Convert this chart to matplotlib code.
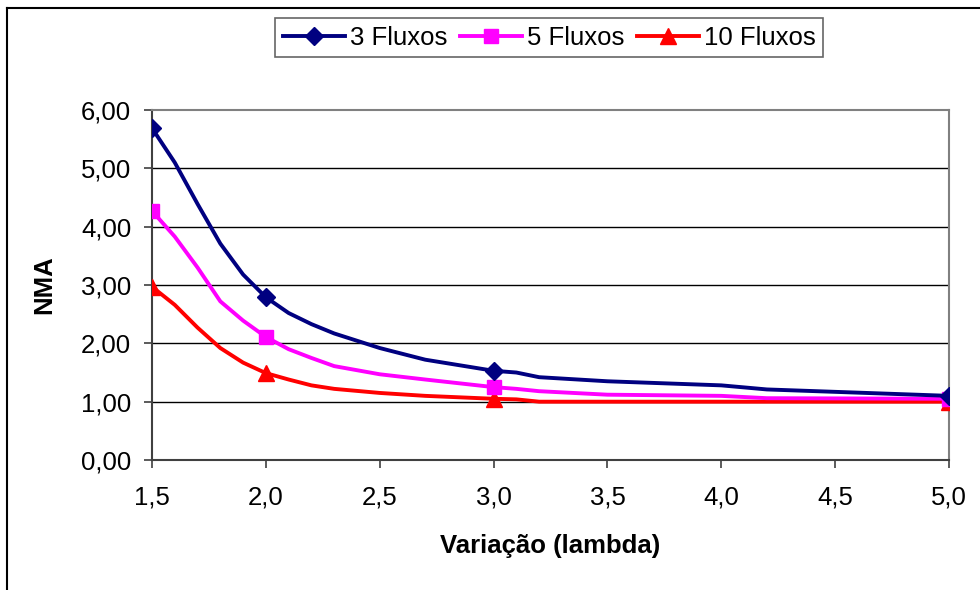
import numpy as np
import matplotlib.pyplot as plt
from matplotlib.lines import Line2D

plt.rcParams['font.family'] = ['Liberation Sans', 'DejaVu Sans']

# lambda values where NMA was measured
lambdas = [1.5, 1.6, 1.7, 1.8, 1.9, 2.0, 2.1, 2.2, 2.3, 2.5, 2.7, 3.0, 3.1, 3.2, 3.5, 4.0, 4.2, 5.0]

nma_3 = [5.69, 5.10, 4.39, 3.71, 3.18, 2.79, 2.52, 2.33, 2.17, 1.92, 1.72, 1.53, 1.50, 1.42, 1.35, 1.28, 1.21, 1.10]
nma_5 = [4.27, 3.83, 3.30, 2.72, 2.39, 2.11, 1.90, 1.75, 1.61, 1.47, 1.38, 1.25, 1.22, 1.18, 1.12, 1.10, 1.06, 1.05]
nma_10 = [2.97, 2.66, 2.27, 1.92, 1.67, 1.49, 1.38, 1.28, 1.22, 1.15, 1.10, 1.05, 1.04, 1.00, 1.00, 1.00, 1.00, 1.00]

# markers only on the main lambda values
marker_idx = [0, 5, 11, 17]

series_names = ['3 Fluxos', '5 Fluxos', '10 Fluxos']

x_ticks = [1.5, 2.0, 2.5, 3.0, 3.5, 4.0, 4.5, 5.0]
x_labels = ['1,5', '2,0', '2,5', '3,0', '3,5', '4,0', '4,5', '5,0']
y_ticks = [0, 1, 2, 3, 4, 5, 6]
y_labels = ['0,00', '1,00', '2,00', '3,00', '4,00', '5,00', '6,00']

fig = plt.figure(figsize=(9.8, 5.9), dpi=100)
ax = fig.add_axes([0.1551, 0.2203, 0.8133, 0.5932])

fs = 18.5

ax.plot(lambdas, nma_3, color='#000080', lw=2.8, marker='D', ms=9,
        markevery=marker_idx, label=series_names[0], zorder=5)
ax.plot(lambdas, nma_5, color='#FF00FF', lw=2.8, marker='s', ms=9.5,
        markevery=marker_idx, label=series_names[1], zorder=4)
ax.plot(lambdas, nma_10, color='#FF0000', lw=2.8, marker='^', ms=11,
        markevery=marker_idx, label=series_names[2], zorder=3)

ax.set_xlim(1.5, 5.0)
ax.set_ylim(0, 6)
ax.set_xticks(x_ticks)
ax.set_xticklabels(x_labels, fontsize=fs)
ax.set_yticks(y_ticks)
ax.set_yticklabels(y_labels, fontsize=fs)
ax.tick_params(direction='out', length=6, width=1.2, color='#404040')
ax.tick_params(axis='x', pad=12)
ax.tick_params(axis='y', pad=9)

for y in y_ticks[1:-1]:
    ax.axhline(y, color='black', lw=1, zorder=1)

ax.spines['left'].set_color('#404040')
ax.spines['bottom'].set_color('#404040')
ax.spines['left'].set_linewidth(1.5)
ax.spines['bottom'].set_linewidth(1.5)
ax.spines['top'].set_color('#808080')
ax.spines['right'].set_color('#808080')
ax.spines['top'].set_linewidth(1.5)
ax.spines['right'].set_linewidth(1.5)

ax.set_xlabel('Variação (lambda)', fontsize=fs, fontweight='bold', labelpad=18)
ax.set_ylabel('NMA', fontsize=fs, fontweight='bold', labelpad=18)

leg = fig.legend(loc='center', bbox_to_anchor=(0.5607, 0.9364), ncol=3,
                 fontsize=fs, frameon=True, fancybox=False, handlelength=2.4,
                 handletextpad=0.2, columnspacing=0.5, borderpad=0.3)
leg.get_frame().set_edgecolor('#404040')
leg.get_frame().set_linewidth(1.2)

# outer chart border
fig.add_artist(Line2D([7 / 980, 7 / 980], [0, 1 - 8 / 590], color='black', lw=1.5,
                      transform=fig.transFigure))
fig.add_artist(Line2D([7 / 980, 1], [1 - 8 / 590, 1 - 8 / 590], color='black', lw=1.5,
                      transform=fig.transFigure))

fig.savefig('out.png', dpi=100)
